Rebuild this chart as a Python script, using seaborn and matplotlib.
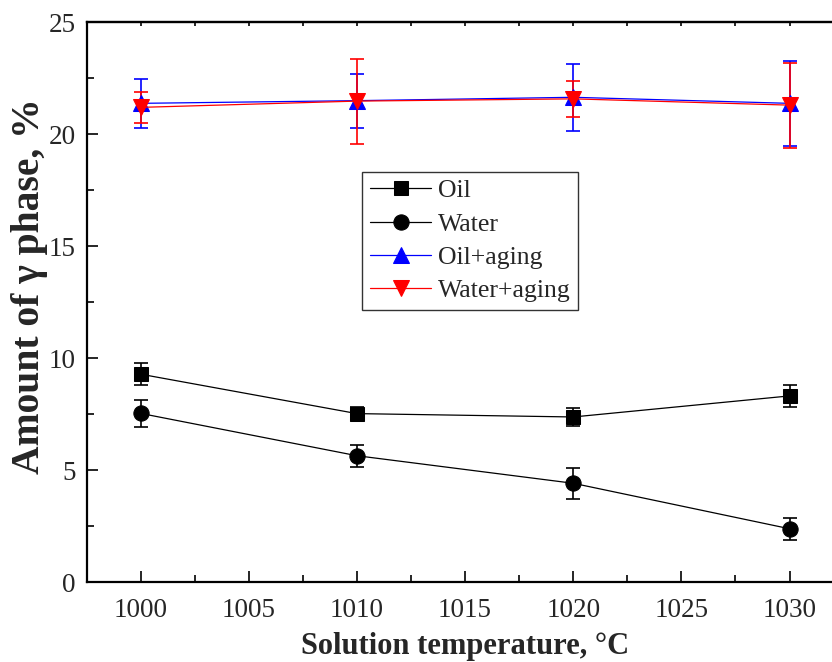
import matplotlib
matplotlib.use('Agg')
import matplotlib.pyplot as plt
import seaborn as sns
import pandas as pd
from matplotlib.ticker import MultipleLocator

# data
temps = [1000, 1010, 1020, 1030]
oil = [9.29, 7.53, 7.38, 8.32]
oil_err = [0.48, 0.30, 0.40, 0.50]
water = [7.54, 5.65, 4.42, 2.39]
water_err = [0.59, 0.50, 0.70, 0.50]
oil_aging = [21.38, 21.50, 21.65, 21.38]
oil_aging_err = [1.10, 1.20, 1.50, 1.90]
water_aging = [21.20, 21.48, 21.58, 21.30]
water_aging_err = [0.70, 1.90, 0.80, 1.90]

series_names = ['Oil', 'Water', 'Oil+aging', 'Water+aging']
series_vals = [oil, water, oil_aging, water_aging]
series_errs = [oil_err, water_err, oil_aging_err, water_aging_err]
series_colors = ['black', 'black', 'blue', 'red']
series_markers = ['s', 'o', '^', 'v']
series_msize = [10, 11, 12, 12]

df = pd.DataFrame({
    'temp': temps * 4,
    'value': sum(series_vals, []),
    'err': sum(series_errs, []),
    'series': [n for n in series_names for _ in temps],
})

sns.set_style("ticks")
plt.rcParams['font.family'] = ['Liberation Serif', 'DejaVu Serif']

fig = plt.figure(figsize=(8.32, 6.62), dpi=100)
ax = fig.add_axes([0.104, 0.1204, 0.91, 0.846])

for name, col, mk, ms in zip(series_names, series_colors, series_markers, series_msize):
    sub = df[df['series'] == name]
    ax.errorbar(sub['temp'], sub['value'], yerr=sub['err'], fmt='none',
                ecolor=col, elinewidth=1.2, capsize=5, capthick=1.2, zorder=2)
    sns.lineplot(data=sub, x='temp', y='value', ax=ax, color=col, marker=mk,
                 markersize=ms, markeredgecolor=col, linewidth=0.9,
                 label=name, zorder=3)

ax.set_xlim(997.5, 1032.5)
ax.set_ylim(0, 25)
ax.xaxis.set_major_locator(MultipleLocator(5))
ax.xaxis.set_minor_locator(MultipleLocator(2.5))
ax.yaxis.set_major_locator(MultipleLocator(5))
ax.yaxis.set_minor_locator(MultipleLocator(2.5))

for s in ax.spines.values():
    s.set_linewidth(1.6)
    s.set_color('black')

ax.tick_params(which='major', direction='in', length=8, width=1.4,
               labelsize=19.5, top=False, right=False)
ax.tick_params(axis='x', which='major', pad=11)
ax.tick_params(axis='y', which='major', pad=8)
ax.tick_params(which='minor', direction='in', length=5, width=1.4,
               top=False, right=False)

sec = ax.secondary_xaxis('top')
sec.xaxis.set_major_locator(MultipleLocator(2.5))
sec.tick_params(which='major', direction='in', length=3, width=1.4, labeltop=False)
sec.spines['top'].set_linewidth(1.6)

ax.set_xlabel('Solution temperature, °C', fontsize=22, fontweight='bold')
ax.xaxis.set_label_coords(0.5, -0.088)
ax.set_ylabel('Amount of γ phase, %', fontsize=28.5, fontweight='bold')
ax.yaxis.set_label_coords(-0.051, 0.529)

leg = ax.legend(loc='upper left', bbox_to_anchor=(0.364, 0.733), borderaxespad=0,
                fontsize=18.5, frameon=True, fancybox=False, edgecolor='black',
                handlelength=2.4, handletextpad=0.25, labelspacing=0.4,
                borderpad=0.3)
leg.get_frame().set_linewidth(1.0)

fig.savefig('out.png', dpi=100)
